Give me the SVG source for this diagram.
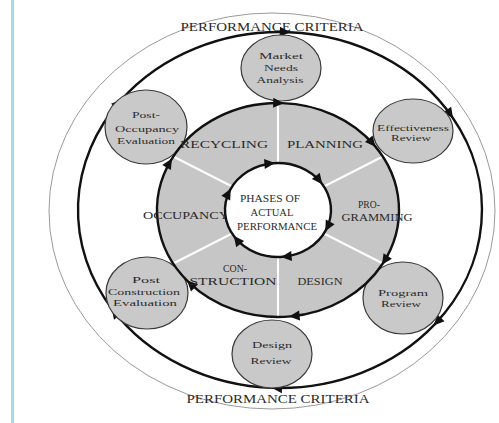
<svg xmlns="http://www.w3.org/2000/svg" width="499" height="423" viewBox="0 0 499 423">
<style>
text{font-family:"Liberation Serif","Times New Roman",serif;fill:#2b2b2b;text-anchor:middle}
.sat{fill:#c9c9c9;stroke:#3a3a3a;stroke-width:1.2}
.st{font-size:9px}
.rl{font-size:11px}
.ct{font-size:9.5px}
.ttl{font-size:12.5px}
.blk{fill:none;stroke:#111;stroke-width:2.4}
.div{stroke:#fff;stroke-width:2}
</style>
<defs>
<marker id="ah" viewBox="-11 -6 13 12" refX="0" refY="0" markerWidth="13" markerHeight="12" markerUnits="userSpaceOnUse" orient="auto">
<path d="M1.5,0 L-9,-5 L-9,5 Z" fill="#111"/>
</marker>
</defs>
<rect width="499" height="423" fill="#fff"/>
<line x1="12.5" y1="0" x2="12.5" y2="423" stroke="#a6dbeb" stroke-width="3"/>

<g id="outer-boundary">
<ellipse cx="272" cy="211" rx="223" ry="198" fill="none" stroke="#9a9a9a" stroke-width="1"/>
<text class="ttl" x="272" y="31" textLength="183" lengthAdjust="spacingAndGlyphs">PERFORMANCE CRITERIA</text>
<text class="ttl" x="278" y="403" textLength="183" lengthAdjust="spacingAndGlyphs">PERFORMANCE CRITERIA</text>
</g>

<g id="connectors">
<path class="blk" marker-mid="url(#ah)" marker-end="url(#ah)" d="M120.8,100.4 A202,178 0 0 1 288.8,32.2 A202,178 0 0 1 452.2,117.0 A202,178 0 0 1 434.7,324.4 A202,178 0 0 1 273.0,387.9 A202,178 0 0 1 112.5,309.5 A202,178 0 0 1 120.8,100.4"/>
</g>

<g id="market-needs-analysis">
<ellipse class="sat" cx="281" cy="68" rx="40" ry="33"/>
<text class="st" x="281" y="59" textLength="44" lengthAdjust="spacingAndGlyphs">Market</text>
<text class="st" x="281" y="71" textLength="34" lengthAdjust="spacingAndGlyphs">Needs</text>
<text class="st" x="280" y="83" textLength="47" lengthAdjust="spacingAndGlyphs">Analysis</text>
</g>
<g id="effectiveness-review">
<ellipse class="sat" cx="413" cy="131" rx="40" ry="32"/>
<text class="st" x="413" y="131" textLength="72" lengthAdjust="spacingAndGlyphs">Effectiveness</text>
<text class="st" x="411" y="141" textLength="40" lengthAdjust="spacingAndGlyphs">Review</text>
</g>
<g id="program-review">
<ellipse class="sat" cx="403" cy="298" rx="40" ry="36"/>
<text class="st" x="403" y="296" textLength="50" lengthAdjust="spacingAndGlyphs">Program</text>
<text class="st" x="401" y="307" textLength="40" lengthAdjust="spacingAndGlyphs">Review</text>
</g>
<g id="design-review">
<ellipse class="sat" cx="272" cy="354" rx="40" ry="34"/>
<text class="st" x="272" y="348" textLength="40" lengthAdjust="spacingAndGlyphs">Design</text>
<text class="st" x="271" y="364" textLength="41" lengthAdjust="spacingAndGlyphs">Review</text>
</g>
<g id="post-construction-evaluation">
<ellipse class="sat" cx="147" cy="293" rx="41" ry="36"/>
<text class="st" x="146" y="283" textLength="28" lengthAdjust="spacingAndGlyphs">Post</text>
<text class="st" x="144" y="295" textLength="72" lengthAdjust="spacingAndGlyphs">Construction</text>
<text class="st" x="145" y="306" textLength="64" lengthAdjust="spacingAndGlyphs">Evaluation</text>
</g>
<g id="post-occupancy-evaluation">
<ellipse class="sat" cx="146" cy="127" rx="41" ry="37"/>
<text class="st" x="146" y="118" textLength="28" lengthAdjust="spacingAndGlyphs">Post-</text>
<text class="st" x="147" y="132" textLength="64" lengthAdjust="spacingAndGlyphs">Occupancy</text>
<text class="st" x="146" y="144" textLength="58" lengthAdjust="spacingAndGlyphs">Evaluation</text>
</g>

<g id="phases-ring">
<ellipse cx="278" cy="210" rx="121" ry="107" fill="#c6c6c6"/>
<line class="div" x1="278" y1="103" x2="278" y2="163"/>
<line class="div" x1="382.8" y1="156.5" x2="323.9" y2="186.5"/>
<line class="div" x1="382.8" y1="263.5" x2="323.9" y2="233.5"/>
<line class="div" x1="278" y1="317" x2="278" y2="257"/>
<line class="div" x1="173.2" y1="263.5" x2="232.1" y2="233.5"/>
<line class="div" x1="173.2" y1="156.5" x2="232.1" y2="186.5"/>
<path class="blk" marker-mid="url(#ah)" marker-end="url(#ah)" d="M171.2,159.8 A121,107 0 0 1 282.2,103.1 A121,107 0 0 1 374.6,145.6 A121,107 0 0 1 382.8,263.5 A121,107 0 0 1 290.6,316.4 A121,107 0 0 1 188.1,281.6 A121,107 0 0 1 171.2,159.8"/>
</g>
<g id="recycling"><text class="rl" x="224" y="148" textLength="88" lengthAdjust="spacingAndGlyphs">RECYCLING</text></g>
<g id="planning"><text class="rl" x="325" y="148" textLength="76" lengthAdjust="spacingAndGlyphs">PLANNING</text></g>
<g id="programming"><text class="rl" x="369" y="208" textLength="22" lengthAdjust="spacingAndGlyphs">PRO-</text>
<text class="rl" x="377" y="221" textLength="71" lengthAdjust="spacingAndGlyphs">GRAMMING</text></g>
<g id="design"><text class="rl" x="320" y="285" textLength="45" lengthAdjust="spacingAndGlyphs">DESIGN</text></g>
<g id="construction"><text class="rl" x="235" y="272" textLength="24" lengthAdjust="spacingAndGlyphs">CON-</text>
<text class="rl" x="233" y="285" textLength="87" lengthAdjust="spacingAndGlyphs">STRUCTION</text></g>
<g id="occupancy"><text class="rl" x="186" y="219" textLength="86" lengthAdjust="spacingAndGlyphs">OCCUPANCY</text></g>

<g id="phases-of-actual-performance">
<ellipse cx="278" cy="210" rx="53" ry="47" fill="#fff"/>
<path class="blk" marker-mid="url(#ah)" marker-end="url(#ah)" d="M230.0,190.1 A53,47 0 0 1 273.4,163.2 A53,47 0 0 1 321.4,183.0 A53,47 0 0 1 326.0,229.9 A53,47 0 0 1 282.6,256.8 A53,47 0 0 1 234.6,237.0 A53,47 0 0 1 230.0,190.1"/>
<text class="ct" x="270" y="202" textLength="60" lengthAdjust="spacingAndGlyphs">PHASES OF</text>
<text class="ct" x="272" y="216" textLength="43" lengthAdjust="spacingAndGlyphs">ACTUAL</text>
<text class="ct" x="277" y="230" textLength="80" lengthAdjust="spacingAndGlyphs">PERFORMANCE</text>
</g>
</svg>
